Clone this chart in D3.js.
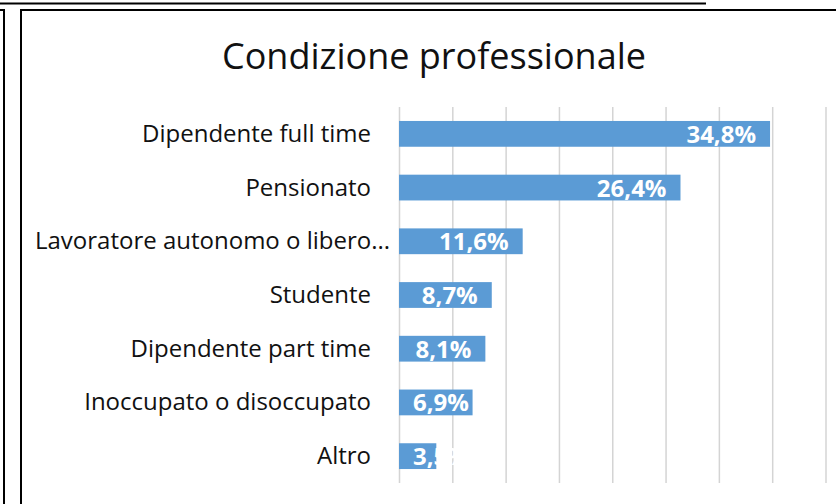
<!DOCTYPE html>
<html>
<head>
<meta charset="utf-8">
<script src="https://cdn.jsdelivr.net/npm/d3@7/dist/d3.min.js"></script>
<style>
  html, body { margin: 0; padding: 0; background: #fff; }
  svg { display: block; }
  text { font-family: "Open Sans", "Noto Sans", sans-serif; }
</style>
</head>
<body>
<div id="chart"></div>
<script>
const chartTitle = "Condizione professionale";
const categories = [
  "Dipendente full time",
  "Pensionato",
  "Lavoratore autonomo o libero...",
  "Studente",
  "Dipendente part time",
  "Inoccupato o disoccupato",
  "Altro"
];
const values = [34.8, 26.4, 11.6, 8.7, 8.1, 6.9, 3.5];
const xTicks = [0, 5, 10, 15, 20, 25, 30, 35, 40];

const W = 836, H = 504;
const svg = d3.select("#chart").append("svg").attr("width", W).attr("height", H);

// surrounding frames
svg.append("line").attr("x1", 0).attr("x2", 706).attr("y1", 3.5).attr("y2", 3.5)
  .attr("stroke", "#000").attr("stroke-width", 2);
svg.append("path").attr("d", "M0,10H4V504").attr("fill", "none")
  .attr("stroke", "#000").attr("stroke-width", 2);
svg.append("path").attr("d", "M21,504V10H840").attr("fill", "none")
  .attr("stroke", "#000").attr("stroke-width", 2);

const x = d3.scaleLinear().domain([0, 40]).range([399, 825.5]);
const y = d3.scaleBand().domain(categories).range([107, 483])
  .paddingInner(0.52).paddingOuter(0.26);

// title
svg.append("text").attr("x", 434).attr("y", 69).attr("text-anchor", "middle")
  .attr("font-size", 36).attr("fill", "#111").text(chartTitle);

// gridlines
const grid = svg.append("g").attr("transform", "translate(0,483)")
  .call(d3.axisBottom(x).tickValues(xTicks).tickSize(-(483 - 107)).tickFormat(""));
grid.select(".domain").remove();
grid.selectAll(".tick line").attr("stroke", "#d4d4d4").attr("stroke-width", 1.5);

// bars
svg.append("g").selectAll("rect").data(values).join("rect")
  .attr("x", x(0))
  .attr("y", (d, i) => y(categories[i]))
  .attr("width", d => x(d) - x(0))
  .attr("height", y.bandwidth())
  .attr("fill", "#5b9bd5");

// category labels
const labelRight = 371, labelLeft = 35;
const yAxis = svg.append("g").attr("transform", `translate(${labelRight},0)`)
  .call(d3.axisLeft(y).tickSize(0).tickPadding(0));
yAxis.select(".domain").remove();
yAxis.selectAll(".tick text")
  .attr("font-size", 24).attr("fill", "#111")
  .attr("font-family", "'Open Sans', sans-serif")
  .attr("dy", null).attr("y", 8)
  .each(function () {
    const w = this.getComputedTextLength();
    if (w > labelRight - labelLeft) {
      d3.select(this).attr("text-anchor", "start").attr("x", labelLeft - labelRight);
    } else {
      d3.select(this).attr("text-anchor", "end").attr("x", 0);
    }
  });

// value labels
const fmt = v => d3.format(".1f")(v).replace(".", ",") + "%";
svg.append("g").selectAll("text").data(values).join("text")
  .attr("y", (d, i) => y(categories[i]) + y.bandwidth() / 2 + 9)
  .attr("font-size", 24).attr("font-weight", 700).attr("fill", "#fff")
  .text(d => fmt(d))
  .each(function (d) {
    const w = this.getComputedTextLength();
    d3.select(this).attr("x", Math.max(x(0) + 14, x(d) - 14 - w));
  });
</script>
</body>
</html>
